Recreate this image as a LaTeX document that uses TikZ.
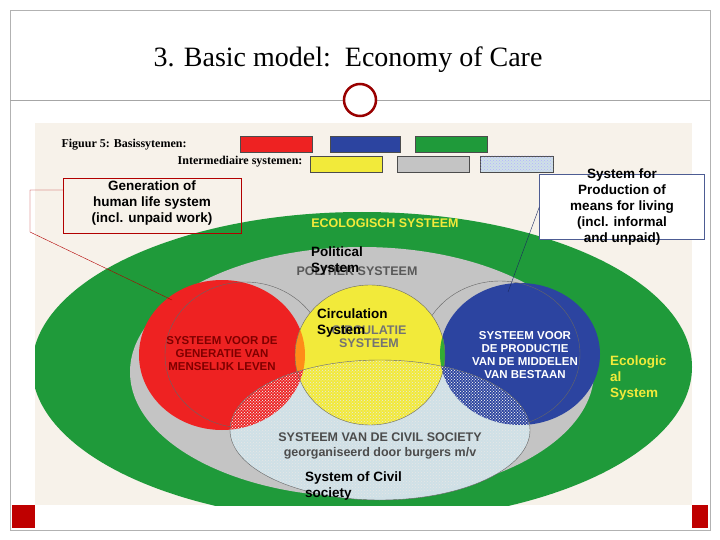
\documentclass[tikz,border=0pt]{standalone}
\usepackage{fontspec}
\setmainfont{Liberation Serif}
\setsansfont{Liberation Sans}
\usetikzlibrary{patterns}
\definecolor{eco}{HTML}{1F9A3A}
\definecolor{gry}{HTML}{C4C4C4}
\definecolor{rd}{HTML}{EE2222}
\definecolor{bl}{HTML}{2C44A0}
\definecolor{yl}{HTML}{F2EA3A}
\definecolor{civ}{HTML}{CFE0E6}
\definecolor{bg}{HTML}{F7F2EA}
\tikzset{lbl/.style={font=\sffamily\bfseries\fontsize{13.5}{16}\selectfont,align=center,inner sep=1pt},
 inl/.style={font=\sffamily\bfseries\fontsize{11.5}{13}\selectfont,align=center,inner sep=0pt},
 leg/.style={draw=black!70,line width=0.6pt}}
\begin{document}
\begin{tikzpicture}[x=1pt,y=-1pt]
\useasboundingbox (0,0) rectangle (720,540);
\fill[white] (0,0) rectangle (720,540);
\draw[gray!60] (10,10) rectangle (710,530);
\node (title) at (348,60) {\fontsize{28}{32}\selectfont 3. Basic model:\ \ Economy of Care};
\draw[gray!70] (10,100) -- (710,100);
\node[circle,draw=red!60!black,line width=2.5pt,fill=white,minimum size=32pt,inner sep=0pt] (ring) at (360,100) {};
\fill[red!75!black] (12,505) rectangle (35,528);
\fill[red!75!black] (692,505) rectangle (708,528);
\fill[bg] (35,123) rectangle (692,505);
\begin{scope}
\clip (35,123) rectangle (692,505);
\fill[eco] (362,367) ellipse [x radius=330,y radius=155];
\fill[gry] (362,372) ellipse [x radius=232,y radius=125];
\fill[rd] (222,355) ellipse [x radius=83,y radius=75];
\draw[black!60] (245,355) ellipse [x radius=80,y radius=73];
\fill[bl] (520,354) ellipse [x radius=80,y radius=71];
\draw[black!60] (500,354) ellipse [x radius=80,y radius=73];
\fill[yl] (370,355) ellipse [x radius=75,y radius=70];
\begin{scope}
\clip (370,355) ellipse [x radius=75,y radius=70];
\fill[orange!90] (222,355) ellipse [x radius=83,y radius=75];
\fill[green!60!black!80] (520,354) ellipse [x radius=80,y radius=71];
\end{scope}
\begin{scope}
\clip (380,430) ellipse [x radius=150,y radius=70];
\fill[civ] (380,430) ellipse [x radius=150,y radius=70];
\fill[yl] (370,355) ellipse [x radius=75,y radius=70];
\fill[rd] (222,355) ellipse [x radius=83,y radius=75];
\fill[bl] (520,354) ellipse [x radius=80,y radius=71];
\fill[pattern=crosshatch dots,pattern color=white] (222,355) ellipse [x radius=83,y radius=75];
\fill[pattern=crosshatch dots,pattern color=white] (520,354) ellipse [x radius=80,y radius=71];
\fill[pattern=crosshatch dots,pattern color=white!60!gry] (362,372) ellipse [x radius=232,y radius=125];
\end{scope}
\draw[black!60] (380,430) ellipse [x radius=150,y radius=70];
\draw[black!60] (370,355) ellipse [x radius=75,y radius=70];
\end{scope}
% legend
\node[font=\bfseries\fontsize{12}{13}\selectfont,anchor=west] (l1) at (58,145) {Figuur 5: Basissytemen:};
\node[font=\bfseries\fontsize{12}{13}\selectfont,anchor=east] (l2) at (306,162) {Intermediaire systemen:};
\filldraw[leg,fill=rd] (240,136) rectangle (312,152);
\filldraw[leg,fill=bl] (330,136) rectangle (400,152);
\filldraw[leg,fill=eco] (415,136) rectangle (487,152);
\filldraw[leg,fill=yl] (310,156) rectangle (382,172);
\filldraw[leg,fill=gry] (397,156) rectangle (469,172);
\filldraw[leg,fill=civ] (480,156) rectangle (553,172);
\fill[pattern=crosshatch dots,pattern color=blue!30] (480,156) rectangle (553,172);
% inner labels
\node[inl,text=yl,font=\sffamily\bfseries\fontsize{12.5}{13}\selectfont] (eco) at (385,223) {ECOLOGISCH SYSTEEM};
\node[inl,text=black!65,font=\sffamily\bfseries\fontsize{12.5}{13}\selectfont] (pol) at (357,271) {POLITIEK SYSTEEM};
\node[inl,text=red!50!black] (gen) at (222,354) {SYSTEEM VOOR DE\\GENERATIE VAN\\MENSELIJK LEVEN};
\node[inl,text=black!55,font=\sffamily\bfseries\fontsize{12.5}{13}\selectfont] (circ) at (369,337) {CIRCULATIE\\SYSTEEM};
\node[inl,text=white] (prod) at (525,355) {SYSTEEM VOOR\\DE PRODUCTIE\\VAN DE MIDDELEN\\VAN BESTAAN};
\node[inl,text=black!70,font=\sffamily\bfseries\fontsize{12.5}{15}\selectfont] (civil) at (380,446) {SYSTEEM VAN DE CIVIL SOCIETY\\georganiseerd door burgers m/v};
% English overlays
\node[draw=red!70!black,minimum width=178pt,minimum height=55pt] (gbox) at (152,206) {};
\node[lbl] (gtxt) at (152,203) {Generation of\\human life system\\(incl. unpaid work)};
\node[draw=bl!60!gray,fill=white,minimum width=165pt,minimum height=65pt] (pbox) at (622,207) {};
\node[lbl] (ptxt) at (622,207) {System for\\Production of\\means for living\\(incl. informal\\and unpaid)};
\coordinate (gc1) at (30,190);
\coordinate (gc2) at (30,232);
\coordinate (gend) at (172,300);
\draw[red!70!black,thin] (gbox.west|-gc1) -- (gc1) -- (gc2) -- (gend);
\coordinate (pend) at (508,292);
\draw[bl!60!black,thin] (pbox.west) -- (pend);
\node[lbl,align=left,anchor=west] (poltxt) at (310,261) {Political\\System};
\node[lbl,align=left,anchor=west] (circtxt) at (316,323) {Circulation\\System};
\node[lbl,align=left,anchor=west,text=yl] (ecotxt) at (609,378) {Ecologic\\al\\System};
\node[lbl,align=left,anchor=west] (civtxt) at (304,486) {System of Civil\\society};
\end{tikzpicture}
\end{document}
